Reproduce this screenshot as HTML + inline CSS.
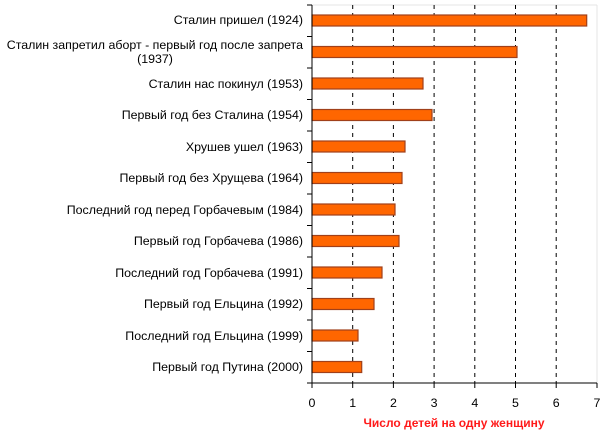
<!DOCTYPE html><html><head><style>body{margin:0;background:#fff}</style></head><body>
<svg width="607" height="442" xmlns="http://www.w3.org/2000/svg" font-family="Liberation Sans, Arial, sans-serif" font-size="12.4">
<rect width="607" height="442" fill="#fff"/>
<line x1="597" y1="5" x2="597" y2="383" stroke="#e4e4e4"/>
<line x1="312" y1="5" x2="597" y2="5" stroke="#e4e4e4"/>
<g stroke="#000" stroke-dasharray="4,4" stroke-width="1">
<line x1="352.7" y1="5" x2="352.7" y2="383"/><line x1="393.4" y1="5" x2="393.4" y2="383"/><line x1="434.1" y1="5" x2="434.1" y2="383"/><line x1="474.8" y1="5" x2="474.8" y2="383"/><line x1="515.5" y1="5" x2="515.5" y2="383"/><line x1="556.2" y1="5" x2="556.2" y2="383"/>
</g>
<g fill="#ff6600" stroke="#a0401a" stroke-width="1.2">
<rect x="312" y="15" width="274.7" height="11"/>
<rect x="312" y="46.5" width="205" height="11"/>
<rect x="312" y="78" width="111" height="11"/>
<rect x="312" y="109.5" width="120" height="11"/>
<rect x="312" y="141" width="93" height="11"/>
<rect x="312" y="172.5" width="90" height="11"/>
<rect x="312" y="204" width="83" height="11"/>
<rect x="312" y="235.5" width="87" height="11"/>
<rect x="312" y="267" width="70" height="11"/>
<rect x="312" y="298.5" width="62" height="11"/>
<rect x="312" y="330" width="46" height="11"/>
<rect x="312" y="361.5" width="49.7" height="11"/>
</g>
<g stroke="#000" stroke-width="1">
<line x1="312" y1="5" x2="312" y2="383"/><line x1="312" y1="383" x2="597" y2="383"/>
<path d="M307 5h5M307 36.5h5M307 68h5M307 99.5h5M307 131h5M307 162.5h5M307 194h5M307 225.5h5M307 257h5M307 288.5h5M307 320h5M307 351.5h5M307 383h5"/>
<path d="M312 383v5M352.7 383v5M393.4 383v5M434.1 383v5M474.8 383v5M515.5 383v5M556.2 383v5M597 383v5"/>
</g>
<g text-anchor="end" fill="#000">
<text x="303" y="24">Сталин пришел (1924)</text>
<text x="303" y="49">Сталин запретил аборт - первый год после запрета</text>
<text x="155" y="63" text-anchor="middle">(1937)</text>
<text x="303" y="88">Сталин нас покинул (1953)</text>
<text x="303" y="119">Первый год без Сталина (1954)</text>
<text x="303" y="151">Хрушев ушел (1963)</text>
<text x="303" y="182">Первый год без Хрущева (1964)</text>
<text x="303" y="214">Последний год перед Горбачевым (1984)</text>
<text x="303" y="245">Первый год Горбачева (1986)</text>
<text x="303" y="277">Последний год Горбачева (1991)</text>
<text x="303" y="308">Первый год Ельцина (1992)</text>
<text x="303" y="340">Последний год Ельцина (1999)</text>
<text x="303" y="371">Первый год Путина (2000)</text>
</g>
<g text-anchor="middle" fill="#000">
<text x="312" y="407">0</text><text x="352.7" y="407">1</text><text x="393.4" y="407">2</text><text x="434.1" y="407">3</text><text x="474.8" y="407">4</text><text x="515.5" y="407">5</text><text x="556.2" y="407">6</text><text x="597" y="407">7</text>
</g>
<text x="454" y="427" text-anchor="middle" fill="#ff1a1a" font-weight="bold" font-size="12">Число детей на одну женщину</text>
</svg>
</body></html>
